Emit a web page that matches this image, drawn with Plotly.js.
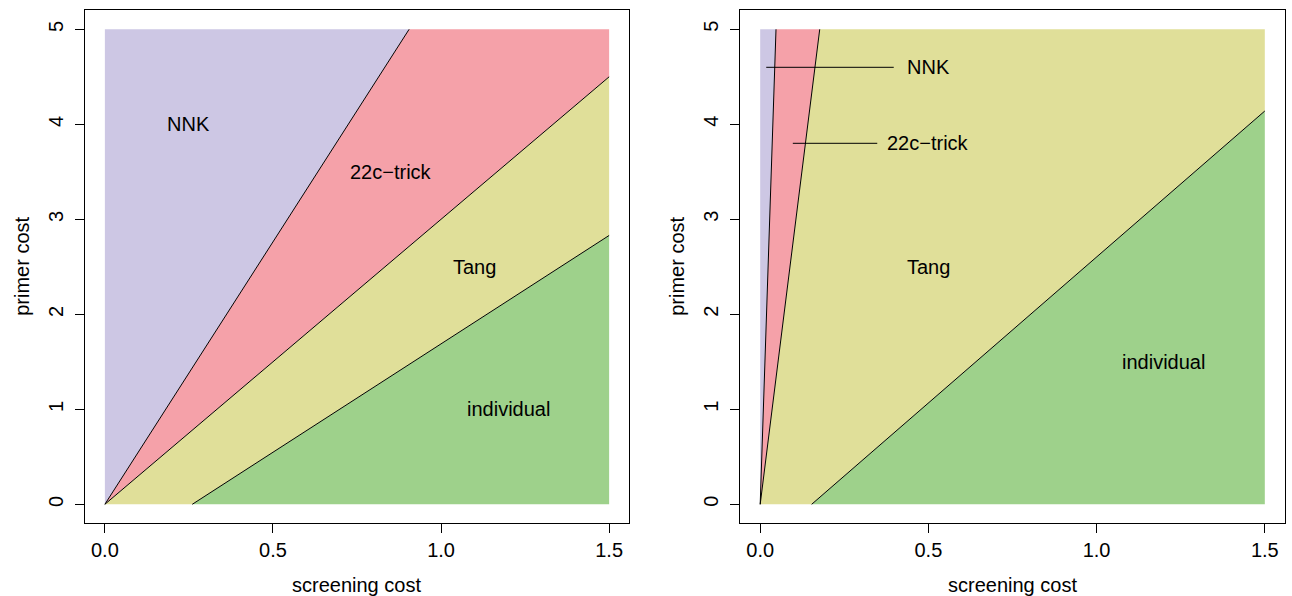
<!DOCTYPE html>
<html>
<head>
<meta charset="utf-8">
<script src="https://cdn.plot.ly/plotly-3.0.1.min.js"></script>
<style>html,body{margin:0;padding:0;background:#fff;}#chart{width:1292px;height:596px;}</style>
</head>
<body>
<div id="chart"></div>
<script>
// ---- data ----
const regionNames = ["NNK", "22c\u2212trick", "Tang", "individual"];
const regionColors = ["#CDC7E4", "#F5A1A9", "#E0DF99", "#9ED18B"];
const xMax = 1.5, yMax = 5;

// boundary lines between consecutive regions: start/end points
const leftBoundaryX = [[0, 0.905], [0, 1.5], [0.26, 1.5]];
const leftBoundaryY = [[0, 5], [0, 4.5], [0, 2.83]];
const rightBoundaryX = [[0, 0.047], [0, 0.177], [0.153, 1.5]];
const rightBoundaryY = [[0, 5], [0, 5], [0, 4.14]];

// label positions
const leftLabelX = [0.25, 0.85, 1.1, 1.2];
const leftLabelY = [4.0, 3.5, 2.5, 1.0];
const rightLabelX = [0.5, 0.5, 0.5, 1.2];
const rightLabelY = [4.6, 3.8, 2.5, 1.5];
// leader segments in the right panel (NNK, 22c-trick)
const rightLeaderX = [[0.018, 0.397], [0.097, 0.348]];
const rightLeaderY = [[4.6, 4.6], [3.8, 3.8]];

const xTicks = [0, 0.5, 1.0, 1.5];
const xTickText = ["0.0", "0.5", "1.0", "1.5"];
const yTicks = [0, 1, 2, 3, 4, 5];
const xTitle = "screening cost";
const yTitle = "primer cost";

// ---- geometry helpers: walk the data rectangle perimeter clockwise ----
const P = 2 * yMax + 2 * xMax;
function perim(x, y) {
  if (x === 0) return y;
  if (y === yMax) return yMax + x;
  if (x === xMax) return yMax + xMax + (yMax - y);
  return 2 * yMax + xMax + (xMax - x);
}
const corners = [[0, 0, 0], [0, yMax, yMax], [xMax, yMax, yMax + xMax], [xMax, 0, 2 * yMax + xMax]];
function walk(p, q) {
  const d = ((q - p) % P + P) % P;
  const out = [];
  corners.map(c => [c, ((c[2] - p) % P + P) % P])
    .filter(e => e[1] > 1e-9 && e[1] < d - 1e-9)
    .sort((a, b) => a[1] - b[1])
    .forEach(e => out.push([e[0][0], e[0][1]]));
  return out;
}
function regionPolys(bx, by) {
  const bounds = bx.map((xs, i) => ({s: [xs[0], by[i][0]], e: [xs[1], by[i][1]]}));
  const first = {s: [0, 0], e: [0, 0]};
  const lastB = bounds[bounds.length - 1];
  const last = {s: lastB.s, e: lastB.s};
  const all = [first, ...bounds, last];
  const polys = [];
  for (let i = 0; i < all.length - 1; i++) {
    const A = all[i], B = all[i + 1];
    const pts = [A.s, A.e];
    walk(perim(A.e[0], A.e[1]), perim(B.e[0], B.e[1])).forEach(p => pts.push(p));
    pts.push(B.e, B.s);
    walk(perim(B.s[0], B.s[1]), perim(A.s[0], A.s[1])).forEach(p => pts.push(p));
    pts.push(A.s);
    polys.push(pts);
  }
  return polys;
}

const traces = [];
function addPanel(bx, by, xa, ya) {
  regionPolys(bx, by).forEach((pts, i) => {
    traces.push({type: "scatter", mode: "lines", x: pts.map(p => p[0]), y: pts.map(p => p[1]),
      fill: "toself", fillcolor: regionColors[i], line: {width: 0, color: regionColors[i]},
      hoverinfo: "skip", showlegend: false, xaxis: xa, yaxis: ya, name: regionNames[i]});
  });
  bx.forEach((xs, i) => {
    traces.push({type: "scatter", mode: "lines", x: xs, y: by[i], line: {color: "#000", width: 1},
      hoverinfo: "skip", showlegend: false, xaxis: xa, yaxis: ya});
  });
}
addPanel(leftBoundaryX, leftBoundaryY, "x", "y");
addPanel(rightBoundaryX, rightBoundaryY, "x2", "y2");
rightLeaderX.forEach((xs, i) => {
  traces.push({type: "scatter", mode: "lines", x: xs, y: rightLeaderY[i], line: {color: "#000", width: 1},
    hoverinfo: "skip", showlegend: false, xaxis: "x2", yaxis: "y2"});
});

const FS = 20;
const font = {family: "Liberation Sans, Arial, sans-serif", size: FS, color: "#000"};
const annotations = [];
regionNames.forEach((n, i) => {
  annotations.push({xref: "x", yref: "y", x: leftLabelX[i], y: leftLabelY[i], text: n, showarrow: false, font: font});
  annotations.push({xref: "x2", yref: "y2", x: rightLabelX[i], y: rightLabelY[i], text: n, showarrow: false, font: font});
});

const W = 1292, H = 596;
const leftDom = [84.7 / W, 629.3 / W];
const rightDom = [740 / W, 1285 / W];
const yDom = [(H - 523.3) / H, (H - 10.3) / H];
// axis titles placed like R's mtext lines
[leftDom, rightDom].forEach((dom, k) => {
  annotations.push({xref: "paper", yref: "paper", x: (dom[0] + dom[1]) / 2, y: (H - 585) / H,
    xanchor: "center", yanchor: "middle", text: xTitle, showarrow: false, font: font});
  annotations.push({xref: "paper", yref: "paper", x: (k === 0 ? 22 : 677) / W, y: (yDom[0] + yDom[1]) / 2,
    xanchor: "center", yanchor: "middle", text: yTitle, textangle: -90, showarrow: false, font: font});
});

function xax(domain, anchor) {
  return {domain: domain, anchor: anchor, range: [-0.06, 1.56], tickvals: xTicks, ticktext: xTickText,
    ticks: "outside", ticklen: 9, tickwidth: 1, tickcolor: "#000", showline: true, mirror: true,
    linecolor: "#000", linewidth: 1, showgrid: false, zeroline: false, tickfont: font, automargin: false};
}
function yax(domain, anchor) {
  return {domain: domain, anchor: anchor, range: [-0.2, 5.2], tickvals: yTicks,
    ticks: "outside", ticklen: 9, tickwidth: 1, tickcolor: "#000", showline: true, mirror: true,
    linecolor: "#000", linewidth: 1, showgrid: false, zeroline: false, tickfont: font, tickangle: -90,
    ticklabelstandoff: 4, automargin: false};
}
const layout = {
  width: W, height: H, margin: {l: 0, r: 0, t: 0, b: 0},
  paper_bgcolor: "#fff", plot_bgcolor: "#fff", showlegend: false, font: font,
  xaxis: xax(leftDom, "y"),
  yaxis: yax(yDom, "x"),
  xaxis2: xax(rightDom, "y2"),
  yaxis2: yax(yDom, "x2"),
  annotations: annotations
};
Plotly.newPlot("chart", traces, layout, {displayModeBar: false, staticPlot: true});
</script>
</body>
</html>
